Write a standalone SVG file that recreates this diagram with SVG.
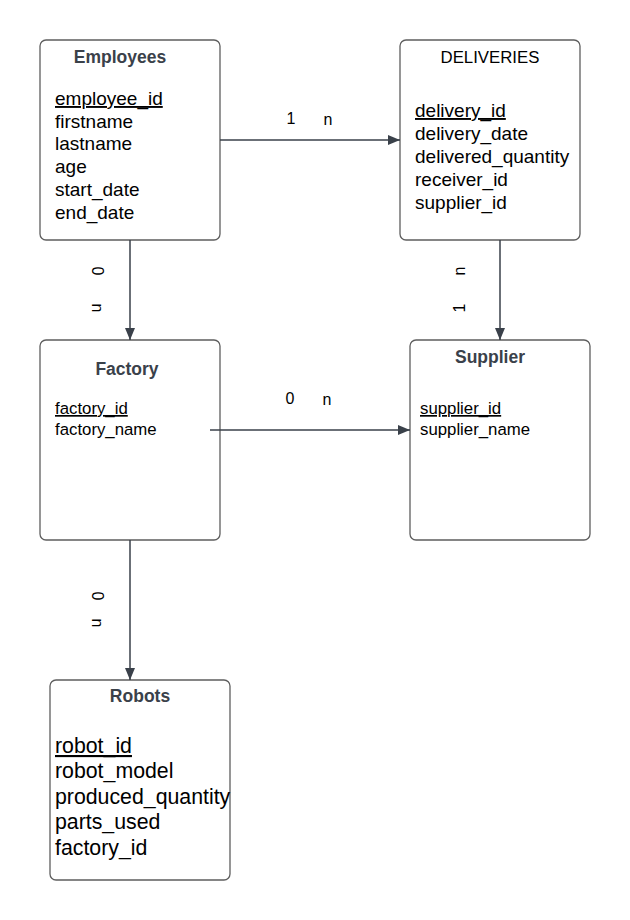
<svg xmlns="http://www.w3.org/2000/svg" width="630" height="920" viewBox="0 0 630 920">
<style>
.box{fill:#fff;stroke:#5e5e5e;stroke-width:1.3}
.title{font-family:"Liberation Sans",Arial,sans-serif;font-weight:bold;font-size:17.5px;fill:#3a414a;text-anchor:middle}
.title2{font-family:"Liberation Sans",Arial,sans-serif;font-size:16.8px;fill:#000;text-anchor:middle}
.f19{font-family:"Liberation Sans",Arial,sans-serif;font-size:19px;fill:#000}
.f17{font-family:"Liberation Sans",Arial,sans-serif;font-size:16.8px;fill:#000}
.f21{font-family:"Liberation Sans",Arial,sans-serif;font-size:21.3px;fill:#000}
.lbl{font-family:"Liberation Sans",Arial,sans-serif;font-size:16px;fill:#000;text-anchor:middle;dominant-baseline:central}
.conn{stroke:#3a414a;stroke-width:1.5;fill:none}
</style>
<defs>
<marker id="arr" viewBox="0 0 12 10" refX="12" refY="5" markerWidth="12" markerHeight="10" markerUnits="userSpaceOnUse" orient="auto">
<path d="M0,0 L12,5 L0,10 Z" fill="#3a414a"/>
</marker>
</defs>
<rect width="630" height="920" fill="#fff"/>

<g id="employees">
<rect class="box" x="40" y="40" width="180" height="200" rx="6"/>
<text class="title" x="120" y="63">Employees</text>
<text class="f19" x="55" y="105" text-decoration="underline">employee_id</text>
<text class="f19" x="55" y="128">firstname</text>
<text class="f19" x="55" y="150">lastname</text>
<text class="f19" x="55" y="173">age</text>
<text class="f19" x="55" y="196">start_date</text>
<text class="f19" x="55" y="219">end_date</text>
</g>

<g id="deliveries">
<rect class="box" x="400" y="40" width="180" height="200" rx="6"/>
<text class="title2" x="490" y="63">DELIVERIES</text>
<text class="f19" x="415" y="117" text-decoration="underline">delivery_id</text>
<text class="f19" x="415" y="140">delivery_date</text>
<text class="f19" x="415" y="163">delivered_quantity</text>
<text class="f19" x="415" y="186">receiver_id</text>
<text class="f19" x="415" y="209">supplier_id</text>
</g>

<g id="factory">
<rect class="box" x="40" y="340" width="180" height="200" rx="6"/>
<text class="title" x="127" y="375">Factory</text>
<text class="f17" x="55" y="414" text-decoration="underline">factory_id</text>
<text class="f17" x="55" y="435">factory_name</text>
</g>

<g id="supplier">
<rect class="box" x="410" y="340" width="180" height="200" rx="6"/>
<text class="title" x="490" y="363">Supplier</text>
<text class="f17" x="420" y="414" text-decoration="underline">supplier_id</text>
<text class="f17" x="420" y="435">supplier_name</text>
</g>

<g id="robots">
<rect class="box" x="50" y="680" width="180" height="200" rx="6"/>
<text class="title" x="140" y="702">Robots</text>
<text class="f21" x="55" y="753" text-decoration="underline">robot_id</text>
<text class="f21" x="55" y="778">robot_model</text>
<text class="f21" x="55" y="804">produced_quantity</text>
<text class="f21" x="55" y="829">parts_used</text>
<text class="f21" x="55" y="855">factory_id</text>
</g>

<g id="connectors">
<line class="conn" x1="220" y1="140" x2="400" y2="140" marker-end="url(#arr)"/>
<line class="conn" x1="130" y1="240" x2="130" y2="340" marker-end="url(#arr)"/>
<line class="conn" x1="500" y1="240" x2="500" y2="340" marker-end="url(#arr)"/>
<line class="conn" x1="210" y1="430" x2="410" y2="430" marker-end="url(#arr)"/>
<line class="conn" x1="130" y1="540" x2="130" y2="680" marker-end="url(#arr)"/>
<text class="lbl" x="291" y="118">1</text>
<text class="lbl" x="328" y="119">n</text>
<text class="lbl" x="290" y="398">0</text>
<text class="lbl" x="327" y="399">n</text>
<text class="lbl" transform="translate(97,271) rotate(90)">0</text>
<text class="lbl" transform="translate(97,308) rotate(90)">n</text>
<text class="lbl" transform="translate(97,596) rotate(90)">0</text>
<text class="lbl" transform="translate(97,623) rotate(90)">n</text>
<text class="lbl" transform="translate(459,271) rotate(-90)">n</text>
<text class="lbl" transform="translate(459,308) rotate(-90)">1</text>
</g>
</svg>
